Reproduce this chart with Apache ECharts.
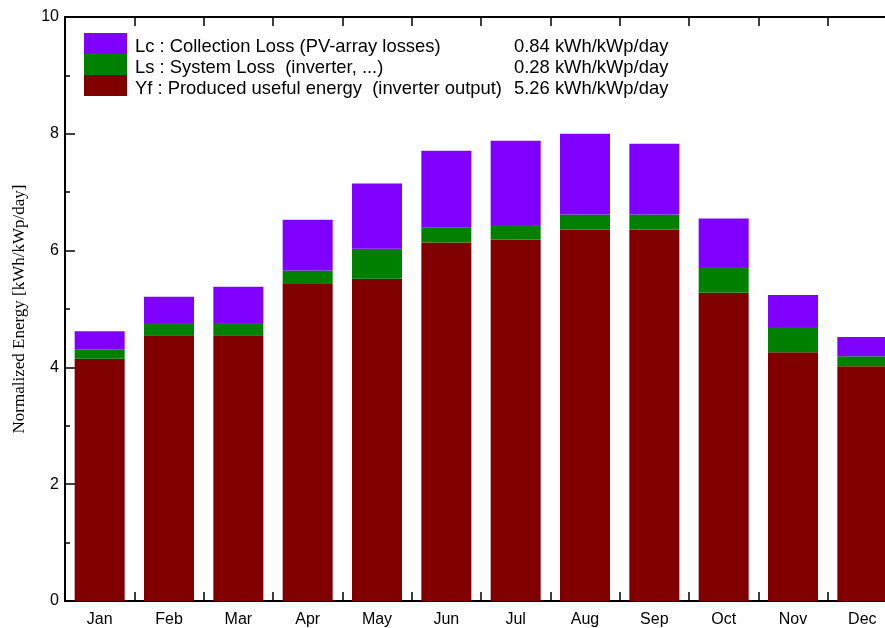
<!DOCTYPE html>
<html>
<head>
<meta charset="utf-8">
<style>
  html, body { margin: 0; padding: 0; background: #ffffff; }
  #chart { width: 885px; height: 628px; }
</style>
<script src="https://cdn.jsdelivr.net/npm/echarts@6/dist/echarts.min.js"></script>
</head>
<body>
<div id="chart"></div>
<script>
// Monthly normalized energy breakdown [kWh/kWp/day]
const months = ['Jan', 'Feb', 'Mar', 'Apr', 'May', 'Jun', 'Jul', 'Aug', 'Sep', 'Oct', 'Nov', 'Dec'];
const yfValues = [4.15, 4.55, 4.55, 5.43, 5.52, 6.14, 6.19, 6.36, 6.36, 5.28, 4.26, 4.02];
const lsValues = [0.16, 0.21, 0.21, 0.23, 0.51, 0.26, 0.25, 0.26, 0.26, 0.44, 0.43, 0.17];
const lcValues = [0.31, 0.45, 0.62, 0.87, 1.12, 1.31, 1.44, 1.38, 1.21, 0.83, 0.55, 0.33];

// Legend entries (top to bottom) with yearly averages
const legendKeys = ['Lc', 'Ls', 'Yf'];
const legendLabels = [
  'Lc : Collection Loss (PV-array losses)',
  'Ls : System Loss  (inverter, ...)',
  'Yf : Produced useful energy  (inverter output)'
];
const legendAverages = ['0.84 kWh/kWp/day', '0.28 kWh/kWp/day', '5.26 kWh/kWp/day'];

const yTicks = { min: 0, max: 10, interval: 2 };

const colors = { Lc: '#8000ff', Ls: '#008000', Yf: '#800000' };
const FONT = 'Liberation Sans, Arial, sans-serif';

const chart = echarts.init(document.getElementById('chart'), null, { renderer: 'canvas' });

function barSeries(key, values) {
  return {
    name: key,
    type: 'bar',
    stack: 'energy',
    data: values,
    barWidth: 50,
    itemStyle: { color: colors[key], borderWidth: 0 }
  };
}

const option = {
  animation: false,
  backgroundColor: '#ffffff',
  // the plot runs slightly past the right edge of the canvas
  grid: { left: 65, width: 832, top: 17, bottom: 27, containLabel: false, outerBoundsMode: 'none' },
  legend: {
    data: legendKeys,
    orient: 'vertical',
    left: 84,
    top: 31,
    padding: 0,
    itemWidth: 43,
    itemHeight: 21,
    itemGap: -4,
    icon: 'rect',
    selectedMode: false,
    textStyle: {
      fontFamily: FONT,
      fontSize: 18.4,
      color: '#000000',
      lineHeight: 14,
      rich: {
        a: { fontFamily: FONT, fontSize: 18.4, color: '#000000', width: 379, lineHeight: 14, padding: [7, 0, 0, 3] },
        b: { fontFamily: FONT, fontSize: 18.4, color: '#000000', lineHeight: 14, padding: [7, 0, 0, 0] }
      }
    },
    formatter: function (name) {
      const i = legendKeys.indexOf(name);
      return '{a|' + legendLabels[i] + '}{b|' + legendAverages[i] + '}';
    }
  },
  xAxis: [
    {
      type: 'category',
      data: months,
      position: 'bottom',
      boundaryGap: true,
      axisLine: { show: true, lineStyle: { color: '#000000', width: 2 } },
      axisTick: { show: true, inside: true, length: 9, lineStyle: { color: '#000000', width: 1.5 } },
      axisLabel: { color: '#000000', fontFamily: FONT, fontSize: 16, margin: 11 },
      splitLine: { show: false }
    },
    {
      type: 'category',
      data: months,
      position: 'top',
      boundaryGap: true,
      axisLine: { show: true, lineStyle: { color: '#000000', width: 2 } },
      axisTick: { show: true, inside: true, length: 9, lineStyle: { color: '#000000', width: 1.5 } },
      axisLabel: { show: false },
      splitLine: { show: false }
    }
  ],
  yAxis: {
    type: 'value',
    min: yTicks.min,
    max: yTicks.max,
    interval: yTicks.interval,
    name: 'Normalized Energy [kWh/kWp/day]',
    nameLocation: 'middle',
    nameGap: 37,
    nameTextStyle: { fontFamily: 'Liberation Serif, Times New Roman, serif', fontSize: 17, color: '#000000' },
    axisLine: { show: true, lineStyle: { color: '#000000', width: 2 } },
    axisTick: { show: true, inside: true, length: 10, lineStyle: { color: '#000000', width: 1.5 } },
    minorTick: { show: true, splitNumber: 2, length: 5, lineStyle: { color: '#000000', width: 1.5 } },
    axisLabel: { color: '#000000', fontFamily: FONT, fontSize: 16, margin: 6 },
    splitLine: { show: false }
  },
  series: [
    barSeries('Yf', yfValues),
    barSeries('Ls', lsValues),
    barSeries('Lc', lcValues)
  ]
};

chart.setOption(option);
</script>
</body>
</html>
